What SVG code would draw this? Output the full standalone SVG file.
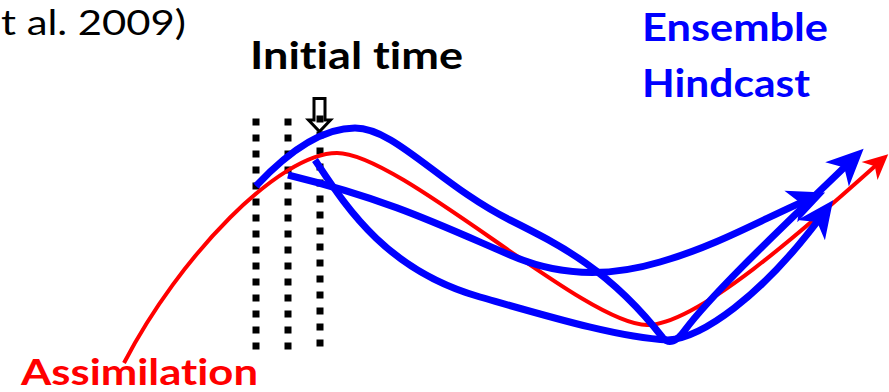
<svg xmlns="http://www.w3.org/2000/svg" width="889" height="392" viewBox="0 0 889 392">
<style>
.lbl{font-family:Lato,"Open Sans","Liberation Sans",sans-serif;font-variant-ligatures:none;font-feature-settings:"liga" 0,"dlig" 0;}
.b{font-weight:bold;}
.dots{stroke:#000;stroke-width:7;stroke-dasharray:7 9;fill:none;}
.blue{stroke:#0000ff;stroke-width:7;fill:none;stroke-linecap:butt;stroke-linejoin:round;}
.red{stroke:#ff0000;stroke-width:4;fill:none;}
</style>
<defs>
<marker id="ab" markerUnits="userSpaceOnUse" viewBox="-40 -20 44 40" markerWidth="44" markerHeight="40" refX="-12" refY="0" orient="auto">
<path d="M0,0 L-37,-17 L-27,0 L-37,17 Z" fill="#0000ff"/>
</marker>
<marker id="ar" markerUnits="userSpaceOnUse" viewBox="-30 -15 34 30" markerWidth="34" markerHeight="30" refX="-7" refY="0" orient="auto">
<path d="M0,0 L-25,-12 L-18,0 L-25,12 Z" fill="#ff0000"/>
</marker>
</defs>
<rect width="889" height="392" fill="#fff"/>
<g id="citation"><text class="lbl" x="1" y="35" font-size="35" textLength="185" lengthAdjust="spacingAndGlyphs" fill="#000">t al. 2009)</text></g>
<g id="initial-time"><text class="lbl b" x="250" y="69" font-size="38" textLength="213" lengthAdjust="spacingAndGlyphs" fill="#000">Initial time</text></g>
<g id="ensemble-hindcast">
<text class="lbl b" x="642" y="41" font-size="39" textLength="186" lengthAdjust="spacingAndGlyphs" fill="#0000ff">Ensemble</text>
<text class="lbl b" x="642" y="97" font-size="39" textLength="168" lengthAdjust="spacingAndGlyphs" fill="#0000ff">Hindcast</text>
</g>
<g id="assimilation"><text class="lbl b" x="21" y="385" font-size="37" textLength="237" lengthAdjust="spacingAndGlyphs" fill="#ff0000">Assimilation</text></g>
<g id="initial-arrow"><path d="M314,98.5 H325 V120 H330.5 L319.5,131.5 L308.5,120 H314 Z" fill="#fff" stroke="#000" stroke-width="3" stroke-linejoin="miter"/></g>
<g id="time-markers">
<line class="dots" x1="256" y1="118.5" x2="256" y2="350"/>
<line class="dots" x1="288" y1="118.5" x2="288" y2="350"/>
<line class="dots" x1="320" y1="115.5" x2="320" y2="347"/>
</g>
<g id="connectors">
<path id="truth" class="red" d="M124,363 C180,255 280,153 337,153 C400,153 585,325 647,325 C700,325 820,215 883,159" marker-end="url(#ar)"/>
<path id="member-a" class="blue" d="M256,186 C285,155 320,128 355,128 C395,128 440,185 510,220 C560,245 610,270 663,338 Q672,348 685,330 C715,290 790,220 855,157" marker-end="url(#ab)"/>
<path id="member-b" class="blue" d="M288,175 C390,200 440,225 510,255 C560,277 610,277 660,262 C720,245 770,215 814,197" marker-end="url(#ab)"/>
<path id="member-c" class="blue" d="M315,160 C345,205 385,270 480,297 C550,317 620,338 668,340 C700,338 760,300 826,210" marker-end="url(#ab)"/>
</g>
</svg>
